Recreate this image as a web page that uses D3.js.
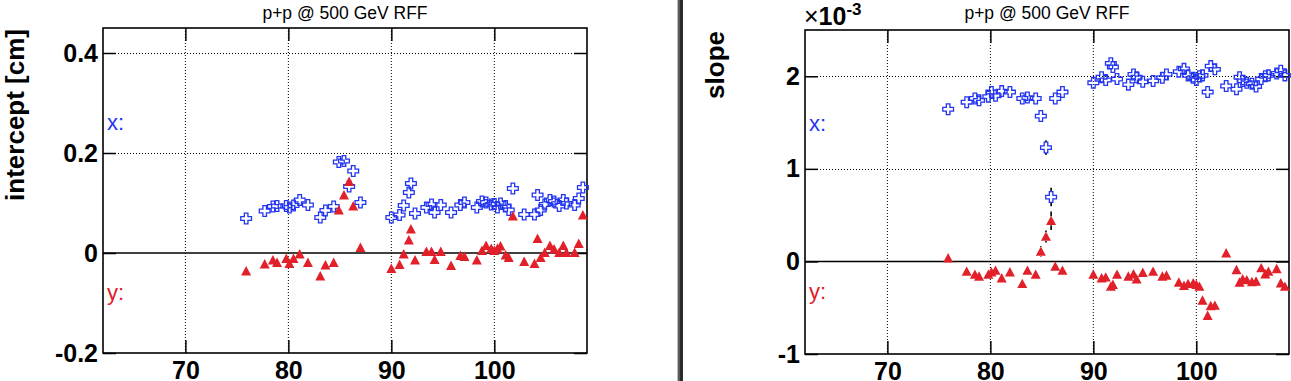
<!DOCTYPE html>
<html><head><meta charset="utf-8">
<script src="https://cdn.jsdelivr.net/npm/d3@7"></script>
<style>
body{margin:0;background:#fff}
svg{display:block}
text{font-family:"Liberation Sans",Arial,Helvetica,sans-serif}
</style>
</head><body>
<svg id="c" width="1291" height="381"></svg>
<script>
// ---- data ----
const runs = [75.9, 77.7, 78.5, 78.9, 79.8, 80.1, 80.5, 81.1, 81.9, 83.1, 83.6, 84.4, 84.9, 85.4, 85.9, 86.3, 87.0,
  90.0, 90.8, 91.2, 91.7, 91.9, 92.3, 93.4, 93.9, 94.2, 94.8, 95.8, 96.7, 97.1, 98.3, 98.8, 99.2, 99.7, 100.0, 100.3, 100.6,
  101.1, 101.4, 101.8, 102.9, 103.9, 104.2, 104.5, 104.9, 105.4, 105.8, 106.3, 106.7, 107.0, 107.8, 108.2, 108.6];

const interceptX = [0.069, 0.084, 0.093, 0.094, 0.094, 0.091, 0.095, 0.106, 0.096, 0.071, 0.085, 0.093, 0.182, 0.184, 0.133, 0.164, 0.101,
  0.071, 0.076, 0.095, 0.121, 0.139, 0.079, 0.091, 0.097, 0.081, 0.096, 0.081, 0.096, 0.101, 0.091, 0.103, 0.101, 0.097, 0.098, 0.091, 0.099,
  0.094, 0.086, 0.129, 0.077, 0.077, 0.116, 0.086, 0.097, 0.106, 0.103, 0.094, 0.106, 0.099, 0.096, 0.109, 0.131];

const interceptY = [-0.036, -0.022, -0.014, -0.019, -0.011, -0.021, -0.011, -0.002, -0.019, -0.046, -0.024, -0.019, 0.086, 0.116, 0.143, 0.094, 0.011,
  -0.031, -0.023, -0.002, 0.026, 0.048, -0.014, 0.003, 0.003, -0.013, 0.003, -0.025, -0.005, -0.007, -0.014, 0.005, 0.015, 0.009, 0.005, 0.009, 0.014,
  -0.004, -0.009, 0.074, -0.017, -0.021, 0.029, -0.009, 0.001, 0.015, 0.008, 0.001, 0.015, 0.001, 0.001, 0.019, 0.076];

// slope values in units of 1e-3
const slopeX = [1.644, 1.72, 1.76, 1.74, 1.78, 1.83, 1.79, 1.84, 1.83, 1.76, 1.77, 1.76, 1.57, 1.23, 0.695, 1.76, 1.83,
  1.93, 1.99, 1.96, 2.14, 2.10, 1.97, 1.91, 2.02, 1.99, 1.94, 1.95, 1.985, 2.02, 2.05, 2.08, 2.01, 1.985, 1.96, 2.0, 2.01,
  1.83, 2.11, 2.075, 1.895, 1.86, 1.99, 1.95, 1.93, 1.92, 1.89, 1.97, 2.0, 2.01, 2.03, 2.06, 2.01];

const slopeY = [0.036, -0.108, -0.14, -0.16, -0.14, -0.115, -0.097, -0.18, -0.115, -0.24, -0.097, -0.14, 0.108, 0.27, 0.44, -0.054, -0.097,
  -0.14, -0.18, -0.17, -0.27, -0.25, -0.14, -0.16, -0.136, -0.19, -0.12, -0.108, -0.16, -0.15, -0.226, -0.26, -0.24, -0.233, -0.25, -0.27, -0.42,
  -0.585, -0.48, -0.475, 0.09, -0.09, -0.226, -0.19, -0.2, -0.22, -0.215, -0.07, -0.136, -0.108, -0.08, -0.233, -0.27];

const slopeXErr = [0.02, 0.02, 0.02, 0.02, 0.02, 0.02, 0.02, 0.02, 0.02, 0.02, 0.02, 0.02, 0.03, 0.08, 0.10, 0.02, 0.02,
  0.02, 0.02, 0.02, 0.02, 0.02, 0.02, 0.02, 0.02, 0.02, 0.02, 0.02, 0.02, 0.02, 0.02, 0.02, 0.02, 0.02, 0.02, 0.02, 0.02,
  0.02, 0.02, 0.02, 0.02, 0.02, 0.02, 0.02, 0.02, 0.02, 0.02, 0.02, 0.02, 0.02, 0.02, 0.02, 0.02];

const slopeYErr = [0.02, 0.02, 0.02, 0.02, 0.02, 0.02, 0.02, 0.02, 0.02, 0.02, 0.02, 0.02, 0.055, 0.065, 0.10, 0.02, 0.02,
  0.02, 0.02, 0.02, 0.02, 0.02, 0.02, 0.02, 0.02, 0.02, 0.02, 0.02, 0.02, 0.02, 0.02, 0.02, 0.02, 0.02, 0.02, 0.02, 0.02,
  0.02, 0.02, 0.02, 0.02, 0.02, 0.02, 0.02, 0.02, 0.02, 0.02, 0.02, 0.02, 0.02, 0.02, 0.02, 0.02];

const xTicks = [70, 80, 90, 100];
const xTickLabels = ["70", "80", "90", "100"];
const interceptTicks = [-0.2, 0, 0.2, 0.4];
const interceptTickLabels = ["-0.2", "0", "0.2", "0.4"];
const slopeTicks = [-1, 0, 1, 2];
const slopeTickLabels = ["-1", "0", "1", "2"];
const titleText = "p+p @ 500 GeV RFF";

// ---- drawing ----
const BLUE = "#2235f0", RED = "#e1202a";
const svg = d3.select("#c");
const FONT = '"Liberation Sans",Arial,Helvetica,sans-serif';

function panel(o) {
  const g = svg.append("g");
  const x = d3.scaleLinear().domain([62, 109]).range([o.left, o.right]);
  const y = d3.scaleLinear().domain(o.yDomain).range([o.bottom, o.top]);

  // dotted grid
  g.selectAll(".gx").data(xTicks).join("line")
    .attr("x1", d => x(d)).attr("x2", d => x(d))
    .attr("y1", o.top).attr("y2", o.bottom)
    .attr("stroke", "#000").attr("stroke-width", 1).attr("stroke-dasharray", "1,2");
  g.selectAll(".gy").data(o.yTicks.filter(d => d !== 0 && d > o.yDomain[0])).join("line")
    .attr("x1", o.left).attr("x2", o.right)
    .attr("y1", d => Math.round(y(d)) + 0.5).attr("y2", d => Math.round(y(d)) + 0.5)
    .attr("stroke", "#000").attr("stroke-width", 1).attr("stroke-dasharray", "1,2");

  // zero line
  g.append("line").attr("x1", o.left).attr("x2", o.right)
    .attr("y1", y(0)).attr("y2", y(0)).attr("stroke", "#000").attr("stroke-width", 1.6);

  // axes (ticks point inward)
  const styleAxis = sel => {
    sel.select(".domain").remove();
    sel.selectAll(".tick line").attr("stroke", "#000").attr("stroke-width", 1.5);
    sel.attr("font-family", FONT).attr("font-size", 25).attr("font-weight", "bold");
    sel.selectAll(".tick text").attr("fill", "#000");
  };
  g.append("g").attr("transform", `translate(0,${o.bottom})`)
    .call(d3.axisBottom(x).tickValues(xTicks).tickSize(-13).tickPadding(8).tickFormat((d, i) => xTickLabels[i]))
    .call(styleAxis);
  g.append("g").attr("transform", `translate(0,${o.top})`)
    .call(d3.axisTop(x).tickValues(xTicks).tickSize(-13).tickFormat(""))
    .call(styleAxis);
  g.append("g").attr("transform", `translate(${o.left},0)`)
    .call(d3.axisLeft(y).tickValues(o.yTicks).tickSize(-13).tickPadding(5).tickFormat((d, i) => o.yTickLabels[i]))
    .call(styleAxis);
  g.append("g").attr("transform", `translate(${o.right},0)`)
    .call(d3.axisRight(y).tickValues(o.yTicks).tickSize(-13).tickFormat(""))
    .call(styleAxis);

  // frame
  g.append("rect").attr("x", o.left).attr("y", o.top)
    .attr("width", o.right - o.left).attr("height", o.bottom - o.top)
    .attr("fill", "none").attr("stroke", "#000").attr("stroke-width", 1.6);

  // error bars (drawn outside of the marker)
  const errBars = (vals, errs, gap) => {
    const segs = [];
    vals.forEach((v, i) => {
      if (!errs) return;
      const cx = x(runs[i]), cy = y(v);
      const yt = y(v + errs[i]), yb = y(v - errs[i]);
      if (yt < cy - gap) segs.push([cx, yt, cy - gap]);
      if (yb > cy + gap) segs.push([cx, cy + gap, yb]);
    });
    g.selectAll(null).data(segs).join("line")
      .attr("x1", d => d[0]).attr("x2", d => d[0]).attr("y1", d => d[1]).attr("y2", d => d[2])
      .attr("stroke", "#000").attr("stroke-width", 1.6);
  };
  errBars(o.xVals, o.xErr, 5.5);
  errBars(o.yVals, o.yErr, 4.5);

  // markers
  const cross = d3.symbol(d3.symbolCross, 64)();
  g.selectAll(null).data(o.xVals).join("path")
    .attr("d", cross)
    .attr("transform", (d, i) => `translate(${x(runs[i])},${y(d)})`)
    .attr("fill", "none").attr("stroke", BLUE).attr("stroke-width", 1.3);
  const tri = "M0,-5L5,4.4L-5,4.4Z";
  g.selectAll(null).data(o.yVals).join("path")
    .attr("d", tri)
    .attr("transform", (d, i) => `translate(${x(runs[i])},${y(d)})`)
    .attr("fill", RED);

  // title
  svg.append("text").attr("x", (o.left + o.right) / 2).attr("y", 19)
    .attr("text-anchor", "middle").attr("font-size", 17.5).text(titleText);

  // y axis title
  svg.append("text").attr("transform", `translate(${o.titleX},${o.top + 1}) rotate(-90)`)
    .attr("text-anchor", "end").attr("font-size", 26).attr("font-weight", "bold").text(o.yTitle);

  // x: / y: labels
  svg.append("text").attr("x", o.left + 4).attr("y", y(o.xLabelAt))
    .attr("font-size", 22).attr("fill", BLUE).text("x:");
  svg.append("text").attr("x", o.left + 4).attr("y", y(o.yLabelAt))
    .attr("font-size", 22).attr("fill", RED).text("y:");
  return {x, y};
}

panel({
  left: 103, right: 587, top: 28, bottom: 353,
  yDomain: [-0.2, 0.45], yTicks: interceptTicks, yTickLabels: interceptTickLabels,
  xVals: interceptX, yVals: interceptY, xErr: null, yErr: null,
  yTitle: "intercept [cm]", titleX: 24, xLabelAt: 0.246, yLabelAt: -0.094
});

panel({
  left: 805, right: 1289, top: 30, bottom: 354,
  yDomain: [-1, 2.5], yTicks: slopeTicks, yTickLabels: slopeTickLabels,
  xVals: slopeX, yVals: slopeY, xErr: slopeXErr, yErr: slopeYErr,
  yTitle: "slope", titleX: 724, xLabelAt: 1.41, yLabelAt: -0.41
});

// exponent label
const ex = svg.append("text").attr("x", 804).attr("y", 25).attr("font-size", 25);
ex.append("tspan").text("×");
ex.append("tspan").attr("font-weight", "bold").text("10");
ex.append("tspan").attr("font-size", 17).attr("font-weight", "bold").attr("dy", -10).text("-3");

// separator between the two pads
svg.append("rect").attr("x", 677).attr("y", 0).attr("width", 1).attr("height", 381).attr("fill", "#bdbdbd");
svg.append("rect").attr("x", 678).attr("y", 0).attr("width", 2).attr("height", 381).attr("fill", "#5a5a5a");
svg.append("rect").attr("x", 680).attr("y", 0).attr("width", 3).attr("height", 381).attr("fill", "#2a2a2a");
</script>
</body></html>
